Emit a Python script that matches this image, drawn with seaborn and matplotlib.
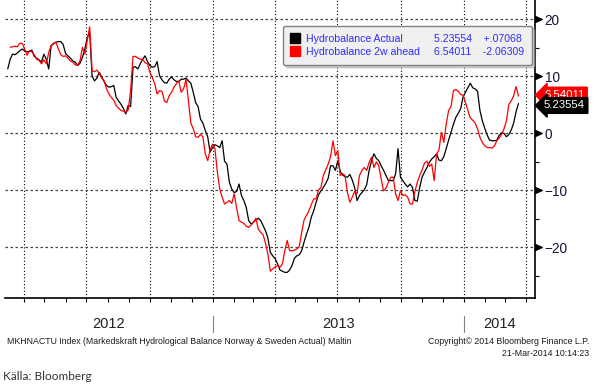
import numpy as np
import pandas as pd
import seaborn as sns
import matplotlib.pyplot as plt
import matplotlib.dates as mdates
from matplotlib.path import Path
from matplotlib.lines import Line2D

# half-weekly readings, 9 Mar 2012 .. 21 Mar 2014
dates = pd.date_range("2012-03-09", periods=213, freq="84h")

actual = [
    11.3, 13.0, 13.9, 13.8, 14.1, 14.5, 14.8, 14.5, 14.3, 14.4,
    14.6, 13.5, 13.2, 12.9, 12.5, 13.9, 13.0, 11.3, 15.4, 15.7,
    16.0, 16.1, 16.1, 15.6, 14.0, 13.6, 13.2, 12.7, 12.5, 11.9,
    12.3, 13.3, 14.8, 16.8, 17.7, 10.1, 9.2, 9.7, 10.7, 9.9,
    9.1, 8.4, 8.1, 8.2, 8.4, 6.3, 5.7, 5.1, 4.4, 3.4,
    4.9, 4.7, 11.6, 11.7, 11.3, 12.2, 13.0, 13.6, 12.6, 11.9,
    11.6, 11.7, 12.6, 10.1, 9.4, 8.9, 8.8, 9.5, 9.9, 9.4,
    9.1, 9.1, 9.5, 9.5, 9.7, 9.2, 8.8, 7.2, 5.4, 4.7,
    2.5, 1.8, 0.5, -0.6, -3.3, -2.5, -2.0, -2.2, -2.5, -1.3,
    -4.9, -5.4, -8.6, -9.8, -10.4, -10.2, -8.9, -10.9, -11.8, -13.0,
    -15.3, -15.9, -15.6, -15.2, -14.9, -15.3, -16.2, -17.1, -18.4, -20.9,
    -21.5, -22.0, -22.9, -24.0, -24.2, -24.4, -24.4, -24.0, -23.2, -21.9,
    -21.5, -21.3, -20.6, -19.1, -17.7, -16.5, -14.7, -13.6, -12.1, -10.8,
    -10.1, -9.5, -8.8, -7.9, -5.7, -5.7, -6.5, -4.8, -6.7, -7.3,
    -7.6, -7.7, -7.2, -8.2, -9.5, -11.8, -10.9, -10.4, -9.9, -9.0,
    -6.5, -4.8, -3.6, -4.4, -4.8, -5.7, -6.5, -7.4, -8.3, -8.3,
    -8.3, -7.1, -2.7, -7.7, -8.3, -8.9, -9.4, -8.9, -9.5, -11.8,
    -11.9, -9.5, -7.7, -6.8, -6.0, -5.1, -4.5, -4.1, -3.6, -4.7,
    -4.8, -4.1, -2.7, -1.2, 0.2, 1.6, 2.8, 3.5, 4.3, 6.4,
    7.2, 8.0, 8.8, 8.0, 7.8, 7.4, 4.0, 2.2, 0.9, -0.3,
    -1.2, -1.3, -1.3, -1.2, -0.3, 0.1, 0.0, -0.6, -0.2, 0.6,
    1.8, 3.8, 5.23554,
]

ahead = [
    np.nan, 15.1, 15.2, 15.3, 15.2, 15.8, 15.8, 14.8, 13.7, 14.5,
    14.3, 13.8, 13.0, 12.8, 12.2, 12.9, 12.2, 14.2, 15.4, 15.8,
    16.0, 14.8, 13.8, 13.5, 13.6, 13.2, 12.7, 12.5, 12.0, 12.0,
    12.7, 15.1, 13.9, 16.3, 18.7, 11.0, 10.8, 11.1, 10.5, 9.7,
    9.2, 7.8, 6.9, 6.3, 5.8, 4.9, 4.4, 4.0, 3.9, 3.7,
    4.1, 7.5, 13.5, 13.5, 13.2, 13.0, 13.0, 12.4, 12.2, 10.7,
    9.8, 8.7, 6.9, 7.5, 7.4, 5.7, 5.4, 6.6, 7.2, 8.1,
    8.7, 9.2, 7.2, 7.8, 9.5, 5.7, 1.8, 0.8, -0.6, -0.7,
    -0.2, -0.6, -3.6, -4.8, -2.9, -1.9, -2.7, -6.8, -9.8, -11.2,
    -12.4, -12.1, -11.8, -12.3, -10.6, -13.1, -15.3, -15.6, -15.8, -16.3,
    -16.5, -16.1, -15.6, -14.9, -16.8, -17.4, -17.8, -19.3, -21.2, -24.2,
    -23.8, -23.4, -23.2, -23.5, -22.9, -20.6, -18.8, -20.6, -20.6, -20.5,
    -20.3, -19.9, -17.4, -15.2, -14.4, -13.6, -12.5, -11.5, -11.5, -9.9,
    -9.5, -7.4, -6.4, -5.4, -4.1, -1.3, -3.9, -3.0, -7.4, -7.1,
    -7.4, -10.4, -12.1, -11.2, -10.2, -10.6, -7.4, -6.5, -6.0, -6.5,
    -5.1, -4.2, -6.0, -5.0, -5.7, -8.0, -10.1, -9.6, -8.6, -7.7,
    -7.7, -10.6, -11.8, -10.1, -10.9, -10.8, -11.2, -12.4, -12.4, -10.2,
    -8.6, -7.4, -6.4, -5.2, -4.9, -5.8, -5.4, -8.3, -3.7, -2.9,
    0.2, -1.6, 1.6, 4.0, 4.7, 7.5, 7.7, 7.4, 6.8, 6.7,
    5.4, 4.0, 2.7, 2.3, 1.8, 0.8, -0.7, -1.6, -2.2, -2.5,
    -2.5, -2.6, -2.2, -1.3, -0.8, -0.2, 0.8, 2.2, 5.1, 5.7,
    6.6, 8.2, 6.54011,
]

series_names = ["Hydrobalance Actual", "Hydrobalance 2w ahead"]
series_colors = ["black", "red"]
last_values = [5.23554, 6.54011]
changes = ["+.07068", "-2.06309"]
years = [2012, 2013, 2014]
y_major = [-20, -10, 0, 10, 20]
y_minor = [-25, -15, -5, 5, 15]

df = pd.DataFrame({"date": dates, "actual": actual, "ahead": ahead})

sns.set_style("white")
plt.rcParams["font.family"] = ["Liberation Sans", "DejaVu Sans"]

fig = plt.figure(figsize=(5.96, 3.85), dpi=100)
ax = fig.add_axes([5 / 596, 87 / 385, 530 / 596, 298 / 385])

sns.lineplot(data=df, x="date", y="actual", color=series_colors[0], lw=0.9, ax=ax)
sns.lineplot(data=df, x="date", y="ahead", color=series_colors[1], lw=0.9, ax=ax)

x0, x1 = pd.Timestamp("2012-03-05"), pd.Timestamp("2014-04-14")
ax.set_xlim(x0, x1)
ax.set_ylim(-28.9, 23.4)
ax.set_xlabel("")
ax.set_ylabel("")

for side in ["left", "top"]:
    ax.spines[side].set_visible(False)
for side in ["right", "bottom"]:
    ax.spines[side].set_color("black")
    ax.spines[side].set_linewidth(1.2)

# x axis: quarterly grid, monthly ticks
ax.xaxis.set_major_locator(mdates.MonthLocator(bymonth=[1, 4, 7, 10]))
ax.xaxis.set_minor_locator(mdates.MonthLocator())
ax.tick_params(axis="x", which="both", direction="out", length=3, width=0.8,
               color="black", labelbottom=False, bottom=True)
ax.grid(axis="x", which="major", color="black", linestyle=(0, (1, 2)), lw=0.8)

# y axis on the right
ax.yaxis.tick_right()
ax.set_yticks(y_major)
ax.set_yticks(y_minor, minor=True)
ax.tick_params(axis="y", which="major", length=0, pad=7, labelsize=9.8,
               labelcolor="#14143a")
ax.tick_params(axis="y", which="minor", length=3, width=0.8, color="black",
               right=True, left=False, direction="out")
ax.grid(axis="y", which="major", color="#444444", linestyle=(0, (2, 2)), lw=0.9)

tri = Path([(0, -0.45), (1, 0), (0, 0.45), (0, -0.45)],
           [Path.MOVETO, Path.LINETO, Path.LINETO, Path.CLOSEPOLY])
for t in ax.yaxis.get_major_ticks():
    t.tick2line.set_marker(tri)
    t.tick2line.set_markersize(10)
    t.tick2line.set_markerfacecolor("black")
    t.tick2line.set_markeredgecolor("black")

# legend with last value and change
handles = [Line2D([], [], marker="s", ls="none", color=c, markersize=6.5)
           for c in series_colors]
handles += [Line2D([], [], ls="none"), Line2D([], [], ls="none")]
labels = series_names + [f"{v:.5f}    {c}" for v, c in zip(last_values, changes)]
leg = ax.legend(handles, labels, ncol=2, loc="upper left",
                bbox_to_anchor=(278 / 530, 1 - 26 / 298), borderaxespad=0,
                fontsize=7.6, labelcolor="#2d2dff", frameon=True, fancybox=True,
                shadow={"color": "#a8a8a8"}, facecolor="#f0f0f0", edgecolor="#808080",
                framealpha=1, handlelength=0.8, handletextpad=0.6,
                columnspacing=-0.05, borderpad=0.75, labelspacing=0.3)

# last value tags
ytr = ax.get_yaxis_transform()
for val, col, dy in zip(last_values[::-1], series_colors[::-1], [1, -2]):
    ax.annotate(f"{val:.5f}", xy=(1, val), xycoords=ytr, xytext=(9, dy),
                textcoords="offset pixels", ha="left", va="center",
                color="white", fontsize=8.2, annotation_clip=False,
                bbox=dict(boxstyle="larrow,pad=0.25", fc=col, ec=col))

# year labels under the axis
xtr = ax.get_xaxis_transform()
for yr in years:
    a = max(pd.Timestamp(f"{yr}-01-01"), x0)
    b = min(pd.Timestamp(f"{yr + 1}-01-01"), x1)
    ax.text(a + (b - a) / 2, -0.087, str(yr), transform=xtr, ha="center",
            va="center", fontsize=10.5, color="#202020")
    if yr > years[0]:
        ax.plot([a, a], [-0.06, -0.114], transform=xtr, color="#808080",
                lw=0.8, clip_on=False)

small = dict(fontsize=6.3, color="#1a1a1a")
fig.text(7 / 596, 1 - 341 / 385,
         "MKHNACTU Index (Markedskraft Hydrological Balance Norway & Sweden Actual) Maltin",
         ha="left", va="center", **small)
fig.text(589 / 596, 1 - 341 / 385, "Copyright\u00a9 2014 Bloomberg Finance L.P.",
         ha="right", va="center", **small)
fig.text(589 / 596, 1 - 353 / 385, "21-Mar-2014 10:14:23",
         ha="right", va="center", **small)
fig.text(3 / 596, 1 - 376 / 385, "Källa: Bloomberg", ha="left", va="center",
         fontsize=8.5, color="#333333", family=["Lato", "DejaVu Sans"])

fig.savefig("out.png", dpi=100)
